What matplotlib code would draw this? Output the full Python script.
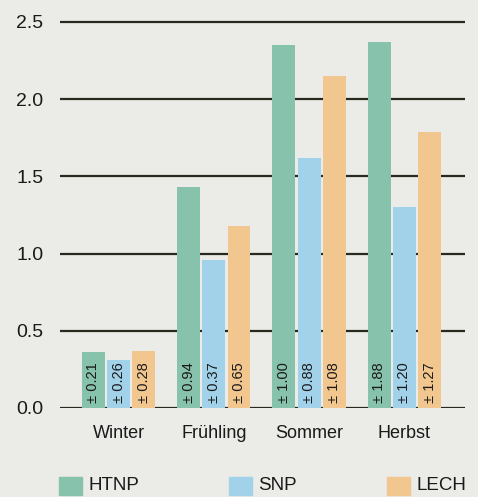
import matplotlib
matplotlib.use("Agg")
import matplotlib.pyplot as plt
import numpy as np
from matplotlib.patches import Rectangle

# ---------------------------------------------------------------------------
# Daten
# ---------------------------------------------------------------------------
jahreszeiten = ["Winter", "Frühling", "Sommer", "Herbst"]
serien = ["HTNP", "SNP", "LECH"]

htnp = [0.36, 1.43, 2.35, 2.37]
snp = [0.31, 0.96, 1.62, 1.30]
lech = [0.37, 1.18, 2.15, 1.79]

htnp_sd = ["± 0.21", "± 0.94", "± 1.00", "± 1.88"]
snp_sd = ["± 0.26", "± 0.37", "± 0.88", "± 1.20"]
lech_sd = ["± 0.28", "± 0.65", "± 1.08", "± 1.27"]

yticks = [0.0, 0.5, 1.0, 1.5, 2.0, 2.5]

FARBEN = ["#87c2ad", "#a2d2ea", "#f2c68f"]
BG = "#ebebe8"
LINIE = "#262b1e"

plt.rcParams["font.family"] = ["Liberation Sans", "DejaVu Sans"]

fig = plt.figure(figsize=(4.78, 4.97), dpi=100, facecolor=BG)
ax = fig.add_axes([60 / 478, 89 / 497, 405 / 478, 2.55 * 154.4 / 497])
ax.set_facecolor(BG)

x = np.arange(len(jahreszeiten))
breite = 0.24
abstand = 0.265

for y in yticks:
    ax.axhline(y, color=LINIE, lw=1.6, zorder=1)

werte = [htnp, snp, lech]
fehler = [htnp_sd, snp_sd, lech_sd]
for k, (vals, sds, farbe) in enumerate(zip(werte, fehler, FARBEN)):
    pos = x + (k - 1) * abstand
    ax.bar(pos, vals, width=breite, color=farbe, zorder=2)
    for p, s in zip(pos, sds):
        ax.text(p, 0.03, s, rotation=90, ha="center", va="bottom",
                fontsize=10.5, color="#1a1a1a", zorder=3)

ax.set_xlim(-0.614, 3.636)
ax.set_ylim(0, 2.55)
ax.set_yticks(yticks)
ax.set_yticklabels([f"{v:.1f}" for v in yticks], fontsize=14)
ax.set_xticks(x)
ax.set_xticklabels(jahreszeiten, fontsize=13)
ax.tick_params(axis="both", length=0, colors="#1a1a1a")
ax.tick_params(axis="y", pad=12)
ax.tick_params(axis="x", pad=12)
for sp in ax.spines.values():
    sp.set_visible(False)

# Legende
leg_x = [59, 229, 387]
for xs, name, farbe in zip(leg_x, serien, FARBEN):
    fig.add_artist(Rectangle((xs / 478, 2 / 497), 23 / 478, 18 / 497,
                             transform=fig.transFigure, color=farbe))
    fig.text((xs + 29) / 478, 11 / 497, name, fontsize=13.5,
             va="center", ha="left", color="#1a1a1a")

fig.savefig("out.png", dpi=100, facecolor=BG)
